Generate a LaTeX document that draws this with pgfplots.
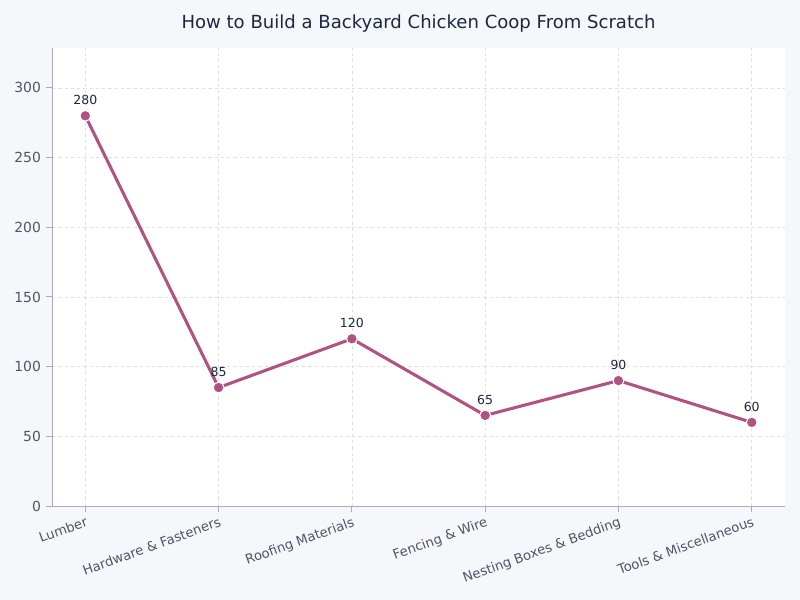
\documentclass[border=0pt]{standalone}
\usepackage{pgfplots}
\pgfplotsset{compat=1.18}
\usepackage{fontspec}
\setmainfont{DejaVu Sans}
\definecolor{pagebg}{HTML}{F5F7FB}
\definecolor{linec}{HTML}{B05282}
\definecolor{spine}{HTML}{A8ACBC}
\definecolor{tickc}{HTML}{4F5566}
\definecolor{titlec}{HTML}{1C2740}
\definecolor{gridc}{HTML}{E0E0E0}

\begin{document}
\begin{tikzpicture}
  % page background, 800 x 600 px at 0.72bp per px
  \fill[pagebg] (0bp,0bp) rectangle (576bp,432bp);
  \node[font=\fontsize{13bp}{15bp}\selectfont, text=titlec] at (301.3bp,415.4bp) {How to Build a Backyard Chicken Coop From Scratch};
  \begin{axis}[
    at={(37.44bp,67.68bp)}, anchor=south west,
    scale only axis,
    width=527.8bp, height=329.8bp,
    xmin=-0.25, xmax=5.25,
    ymin=0, ymax=328.7,
    axis background/.style={fill=white},
    axis x line*=bottom, axis y line*=left,
    axis line style={spine, line width=0.7bp},
    every tick/.style={spine, line width=0.7bp},
    tick align=outside,
    major tick length=4.5bp,
    xtick={0,1,2,3,4,5},
    xticklabels={Lumber, Hardware \& Fasteners, Roofing Materials, Fencing \& Wire, Nesting Boxes \& Bedding, Tools \& Miscellaneous},
    xticklabel style={rotate=20, anchor=north east, font=\fontsize{9.5bp}{11bp}\selectfont, text=tickc, inner sep=1bp, yshift=-1.5bp},
    ytick={0,50,100,150,200,250,300},
    yticklabel style={font=\fontsize{10bp}{12bp}\selectfont, text=tickc},
    /pgf/number format/assume math mode=true,
    grid=major,
    major grid style={gridc, dash pattern=on 2.5bp off 2bp, line width=0.5bp},
    clip=false,
  ]
    \addplot[color=linec, line width=2.2bp, mark=*,
      mark options={fill=linec, draw=white, line width=0.8bp},
      mark size=3.9bp,
      nodes near coords,
      every node near coord/.style={font=\fontsize{9bp}{11bp}\selectfont, text=titlec, anchor=south, yshift=4bp},
    ] coordinates {
      (0,280) (1,85) (2,120) (3,65) (4,90) (5,60)
    };
  \end{axis}
\end{tikzpicture}
\end{document}
